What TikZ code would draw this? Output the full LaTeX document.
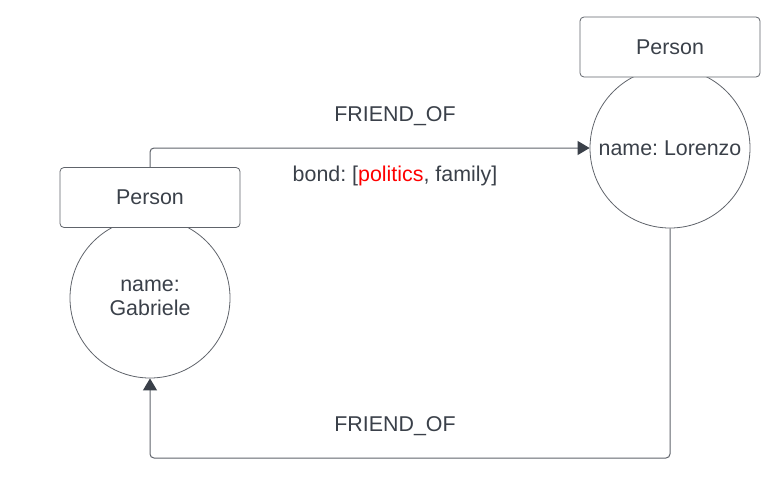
\documentclass[tikz,border=0pt]{standalone}
\usepackage{fontspec}
\setmainfont{Liberation Sans}
\usepackage{tikz}
\usetikzlibrary{arrows.meta}
\definecolor{inkgray}{HTML}{3A4049}
\definecolor{linegray}{HTML}{60646B}
\newcommand{\pxunit}{0.5pt}
\frenchspacing

\begin{document}
\begin{tikzpicture}[x=\pxunit,y=-\pxunit,
	font=\fontsize{10.7}{12}\selectfont, text=inkgray,
	person/.style={draw=linegray, fill=white, rounded corners=2pt, minimum width=90pt, minimum height=30pt, inner sep=0pt},
	propcircle/.style={draw=linegray, circle, minimum size=80pt, inner sep=0pt, align=center},
	rel/.style={draw=linegray, line width=0.5pt, rounded corners=2pt, -{Triangle[length=6pt,width=7pt,color=inkgray]}}]
	\useasboundingbox (0,0) rectangle (782,498);

	\node [propcircle] (gab) at (150,298) {name:\\Gabriele};
	\node [propcircle] (lor) at (670,148) {name: Lorenzo};
	\node [person] (gabbox) at (150,197.5) {Person};
	\node [person] (lorbox) at (670,47) {Person};
	\coordinate (low) at (400,458);

	\draw [rel] (gabbox.north) |- (lor.west);
	\draw [rel] (lor.south) |- (low) -| (gab.south);

	\node at (395,116) {FRIEND\_OF};
	\node at (395,176) {bond: [\textcolor{red}{politics}, family]};
	\node at (395,426) {FRIEND\_OF};

	\end{tikzpicture}
\end{document}
